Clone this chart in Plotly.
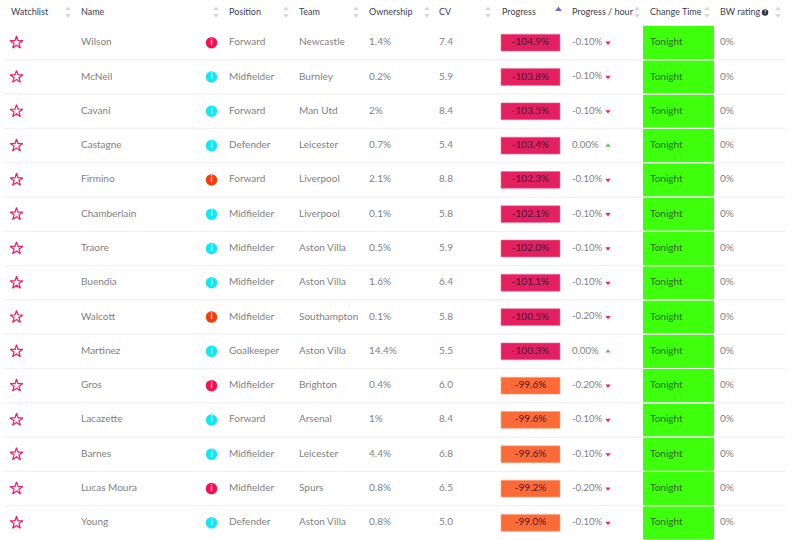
import plotly.graph_objects as go

# table data
names = ["Wilson", "McNeil", "Cavani", "Castagne", "Firmino", "Chamberlain", "Traore", "Buendia",
         "Walcott", "Martinez", "Gros", "Lacazette", "Barnes", "Lucas Moura", "Young"]
positions = ["Forward", "Midfielder", "Forward", "Defender", "Forward", "Midfielder", "Midfielder", "Midfielder",
             "Midfielder", "Goalkeeper", "Midfielder", "Forward", "Midfielder", "Midfielder", "Defender"]
teams = ["Newcastle", "Burnley", "Man Utd", "Leicester", "Liverpool", "Liverpool", "Aston Villa", "Aston Villa",
         "Southampton", "Aston Villa", "Brighton", "Arsenal", "Leicester", "Spurs", "Aston Villa"]
ownership = ["1.4%", "0.2%", "2%", "0.7%", "2.1%", "0.1%", "0.5%", "1.6%",
             "0.1%", "14.4%", "0.4%", "1%", "4.4%", "0.8%", "0.8%"]
cv = ["7.4", "5.9", "8.4", "5.4", "8.8", "5.8", "5.9", "6.4", "5.8", "5.5", "6.0", "8.4", "6.8", "6.5", "5.0"]
progress = [-104.9, -103.8, -103.5, -103.4, -102.3, -102.1, -102.0, -101.1,
            -100.5, -100.3, -99.6, -99.6, -99.6, -99.2, -99.0]
per_hour = [-0.10, -0.10, -0.10, 0.00, -0.10, -0.10, -0.10, -0.10,
            -0.20, 0.00, -0.20, -0.10, -0.10, -0.20, -0.10]
change_time = ["Tonight"] * 15
bw_rating = ["0%"] * 15
info_level = ["red", "cyan", "cyan", "cyan", "orange", "cyan", "cyan", "cyan",
              "orange", "cyan", "red", "cyan", "cyan", "red", "cyan"]
headers = ["Watchlist", "Name", "Position", "Team", "Ownership", "CV", "Progress",
           "Progress / hour", "Change Time", "BW rating"]

# layout constants, x in page pixels
header_x = [11, 81, 229, 299, 369, 439, 502, 572, 650, 720]
sort_x = [68, 216, 286, 356, 427, 488, 637, 707, 778]
FONT = "Lato"
GREY = "#7f7f7f"
rows = list(range(len(names)))
HEADER_Y = -0.88

info_colors = {"red": "#f7104f", "cyan": "#0fe9f7", "orange": "#f43d0c"}

fig = go.Figure()


def text_col(x, values, color=GREY, size=10, position="middle right", y=None, font=FONT):
    fig.add_trace(go.Scatter(x=[x] * len(values), y=rows if y is None else y, text=values, mode="text",
                             textposition=position, textfont=dict(family=font, size=size, color=color),
                             hoverinfo="skip"))


# change time cells
fig.add_trace(go.Bar(y=rows, x=[71] * 15, base=643, orientation="h", width=0.97,
                     marker=dict(color="#3eff0c", line=dict(width=0)), hoverinfo="skip"))
# progress cells
fig.add_trace(go.Bar(y=rows, x=[59] * 15, base=501, orientation="h", width=0.49,
                     marker=dict(color=["#e32161" if v <= -100 else "#fb6b37" for v in progress],
                                 line=dict(width=0.6, color=["#ee6f98" if v <= -100 else "#fda27f" for v in progress])),
                     hoverinfo="skip"))

# row separators
for i in rows:
    fig.add_shape(type="line", x0=4, x1=785, y0=i + 0.5, y1=i + 0.5, line=dict(color="#f1f1f1", width=1.2))

# stars
fig.add_trace(go.Scatter(x=[16.5] * 15, y=rows, mode="markers", hoverinfo="skip",
                         marker=dict(symbol="star-open", size=9.5, color="#f51c62", line=dict(width=1.2, color="#f51c62"))))
# info icons
fig.add_trace(go.Scatter(x=[211.5] * 15, y=rows, mode="markers+text", text=["i"] * 15, textposition="middle center",
                         textfont=dict(family=FONT, size=9, color="white"), hoverinfo="skip",
                         marker=dict(symbol="circle", size=11.5, color=[info_colors[v] for v in info_level])))

text_col(81, names)
text_col(229, positions)
text_col(299, teams)
text_col(369, ownership)
text_col(439, cv)
text_col(530.5, ["%.1f%%" % v for v in progress], color="#4f1330", position="middle center")
text_col(572, ["%.2f%%" % v for v in per_hour], size=9.6)
text_col(650, change_time, color="#2f6b1c")
text_col(720, bw_rating)

# progress / hour arrows
fig.add_trace(go.Scatter(x=[608] * 15, y=rows, mode="markers", hoverinfo="skip",
                         marker=dict(symbol=["triangle-down" if v < 0 else "triangle-up" for v in per_hour], size=4.5,
                                     color=["#f51c62" if v < 0 else "#55cc44" for v in per_hour])))

# header
for x, label in zip(header_x, headers):
    text_col(x, [label], color="#3d3d55", size=9, y=[HEADER_Y])
fig.add_trace(go.Scatter(x=sort_x * 2, y=[HEADER_Y - 0.1] * 9 + [HEADER_Y + 0.08] * 9, mode="markers", hoverinfo="skip",
                         marker=dict(symbol=["triangle-up"] * 9 + ["triangle-down"] * 9, size=5, color="#d8d8d8")))
fig.add_trace(go.Scatter(x=[558.5], y=[HEADER_Y - 0.09], mode="markers", hoverinfo="skip",
                         marker=dict(symbol="triangle-up", size=6, color="#6f70c8")))
fig.add_trace(go.Scatter(x=[765], y=[HEADER_Y], mode="markers+text", text=["?"], textposition="middle center",
                         textfont=dict(family=FONT, size=6, color="white"), hoverinfo="skip",
                         marker=dict(symbol="circle", size=6.5, color="#333344")))

fig.update_layout(width=800, height=540, margin=dict(l=0, r=0, t=0, b=0), showlegend=False,
                  plot_bgcolor="white", paper_bgcolor="white", barmode="overlay")
fig.update_xaxes(range=[0, 800], visible=False, fixedrange=True)
fig.update_yaxes(range=[14.5, -1.245], visible=False, fixedrange=True)

fig.write_html("out.html", config=dict(displayModeBar=False), post_script="document.body.style.margin='0';")
